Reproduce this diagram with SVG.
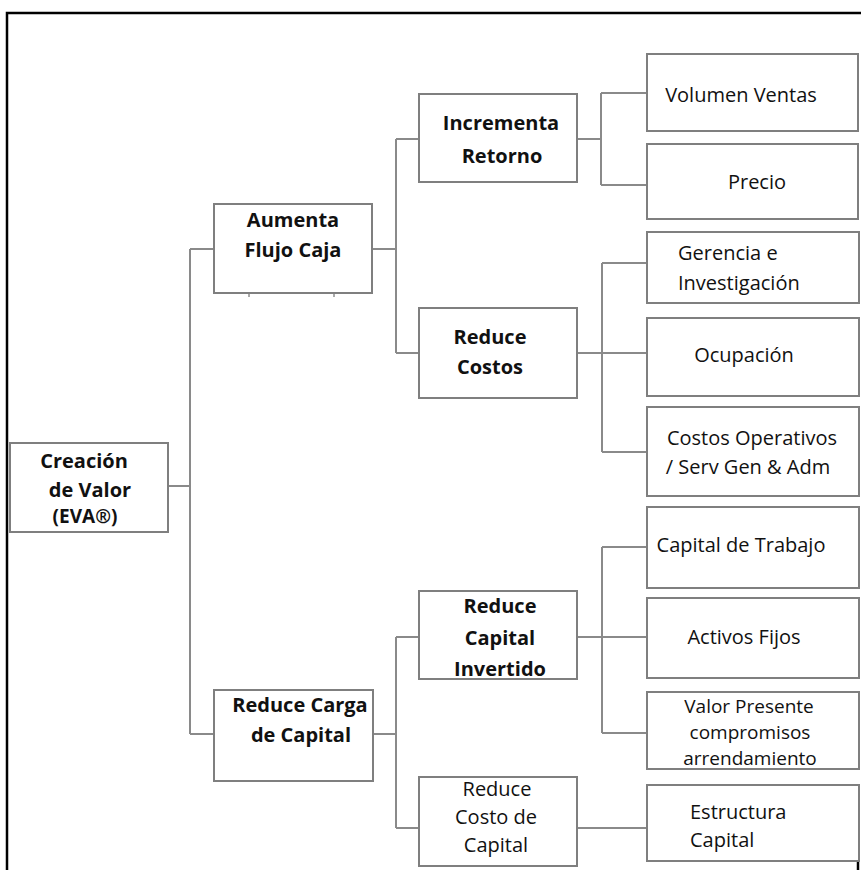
<svg xmlns="http://www.w3.org/2000/svg" width="861" height="870" viewBox="0 0 861 870">
  <style>
    .box { fill: #ffffff; stroke: #7f7f7f; stroke-width: 2; }
    .wire { fill: none; stroke: #8a8a8a; stroke-width: 2; }
    .frame { fill: none; stroke: #000000; stroke-width: 2.5; }
    .b { font-family: "Open Sans", "Noto Sans", "Liberation Sans", sans-serif; font-size: 20px; font-weight: bold; fill: #111111; }
    .r { font-family: "Open Sans", "Noto Sans", "Liberation Sans", sans-serif; font-size: 20px; fill: #111111; }
    .s { font-size: 19px; }
    .m { text-anchor: middle; }
  </style>
  <rect width="861" height="870" fill="#ffffff"/>

  <!-- page frame -->
  <path class="frame" d="M7,870 V13 H861"/>
  <path class="frame" d="M858,850 V870"/>

  <!-- connectors -->
  <g id="connectors">
    <path class="wire" d="M168,486 H190 M190,249 V734 M190,249 H214 M190,734 H214"/>
    <path class="wire" d="M372,249 H396 M396,139 V353 M396,139 H419 M396,353 H419"/>
    <path class="wire" d="M577,139 H601 M601,93 V185 M601,93 H647 M601,185 H647"/>
    <path class="wire" d="M577,353 H647 M602,263 V452 M602,263 H647 M602,452 H647"/>
    <path class="wire" d="M373,734 H396 M396,637 V828 M396,637 H419 M396,828 H419"/>
    <path class="wire" d="M577,637 H647 M602,547 V733 M602,547 H647 M602,733 H647"/>
    <path class="wire" d="M577,828 H647"/>
  </g>

  <!-- root -->
  <g id="creacion-valor">
    <rect class="box" x="10" y="443" width="158" height="89"/>
    <text class="b m" x="84" y="468">Creación</text>
    <text class="b m" x="90" y="497">de Valor</text>
    <text class="b m s" x="85" y="523">(EVA®)</text>
  </g>

  <!-- level 1 -->
  <g id="aumenta-flujo-caja">
    <rect class="box" x="214" y="204" width="158" height="89"/>
    <path d="M249,294 V297 M334,294 V297" stroke="#555555" stroke-width="1"/>
    <text class="b m" x="293" y="227">Aumenta</text>
    <text class="b m" x="293" y="257">Flujo Caja</text>
  </g>
  <g id="reduce-carga-capital">
    <rect class="box" x="214" y="690" width="159" height="91"/>
    <text class="b m" x="300" y="712">Reduce Carga</text>
    <text class="b m" x="301" y="742">de Capital</text>
  </g>

  <!-- level 2 -->
  <g id="incrementa-retorno">
    <rect class="box" x="419" y="94" width="158" height="88"/>
    <text class="b m" x="501" y="130">Incrementa</text>
    <text class="b m" x="502" y="163">Retorno</text>
  </g>
  <g id="reduce-costos">
    <rect class="box" x="419" y="308" width="158" height="90"/>
    <text class="b m" x="490" y="344">Reduce</text>
    <text class="b m" x="490" y="374">Costos</text>
  </g>
  <g id="reduce-capital-invertido">
    <rect class="box" x="419" y="591" width="158" height="88"/>
    <text class="b m" x="500" y="613">Reduce</text>
    <text class="b m" x="500" y="645">Capital</text>
    <text class="b m" x="500" y="676">Invertido</text>
  </g>
  <g id="reduce-costo-capital">
    <rect class="box" x="419" y="777" width="158" height="89"/>
    <text class="r m" x="497" y="796">Reduce</text>
    <text class="r m" x="496" y="824">Costo de</text>
    <text class="r m" x="496" y="852">Capital</text>
  </g>

  <!-- level 3 -->
  <g id="volumen-ventas">
    <rect class="box" x="647" y="54" width="211" height="77"/>
    <text class="r m" x="741" y="102">Volumen Ventas</text>
  </g>
  <g id="precio">
    <rect class="box" x="647" y="144" width="211" height="75"/>
    <text class="r m" x="757" y="189">Precio</text>
  </g>
  <g id="gerencia-investigacion">
    <rect class="box" x="647" y="232" width="212" height="71"/>
    <text class="r" x="678" y="260">Gerencia e</text>
    <text class="r" x="678" y="290">Investigación</text>
  </g>
  <g id="ocupacion">
    <rect class="box" x="647" y="318" width="212" height="78"/>
    <text class="r m" x="744" y="362">Ocupación</text>
  </g>
  <g id="costos-operativos">
    <rect class="box" x="647" y="407" width="212" height="89"/>
    <text class="r m" x="752" y="445">Costos Operativos</text>
    <text class="r m" x="748" y="474">/ Serv Gen &amp; Adm</text>
  </g>
  <g id="capital-trabajo">
    <rect class="box" x="647" y="507" width="212" height="81"/>
    <text class="r m" x="741" y="552">Capital de Trabajo</text>
  </g>
  <g id="activos-fijos">
    <rect class="box" x="647" y="598" width="212" height="80"/>
    <text class="r m" x="744" y="644">Activos Fijos</text>
  </g>
  <g id="valor-presente">
    <rect class="box" x="647" y="692" width="212" height="77"/>
    <text class="r m s" x="749" y="713">Valor Presente</text>
    <text class="r m s" x="750" y="739">compromisos</text>
    <text class="r m s" x="750" y="765">arrendamiento</text>
  </g>
  <g id="estructura-capital">
    <rect class="box" x="647" y="785" width="212" height="76"/>
    <text class="r" x="690" y="819">Estructura</text>
    <text class="r" x="690" y="847">Capital</text>
  </g>
</svg>
